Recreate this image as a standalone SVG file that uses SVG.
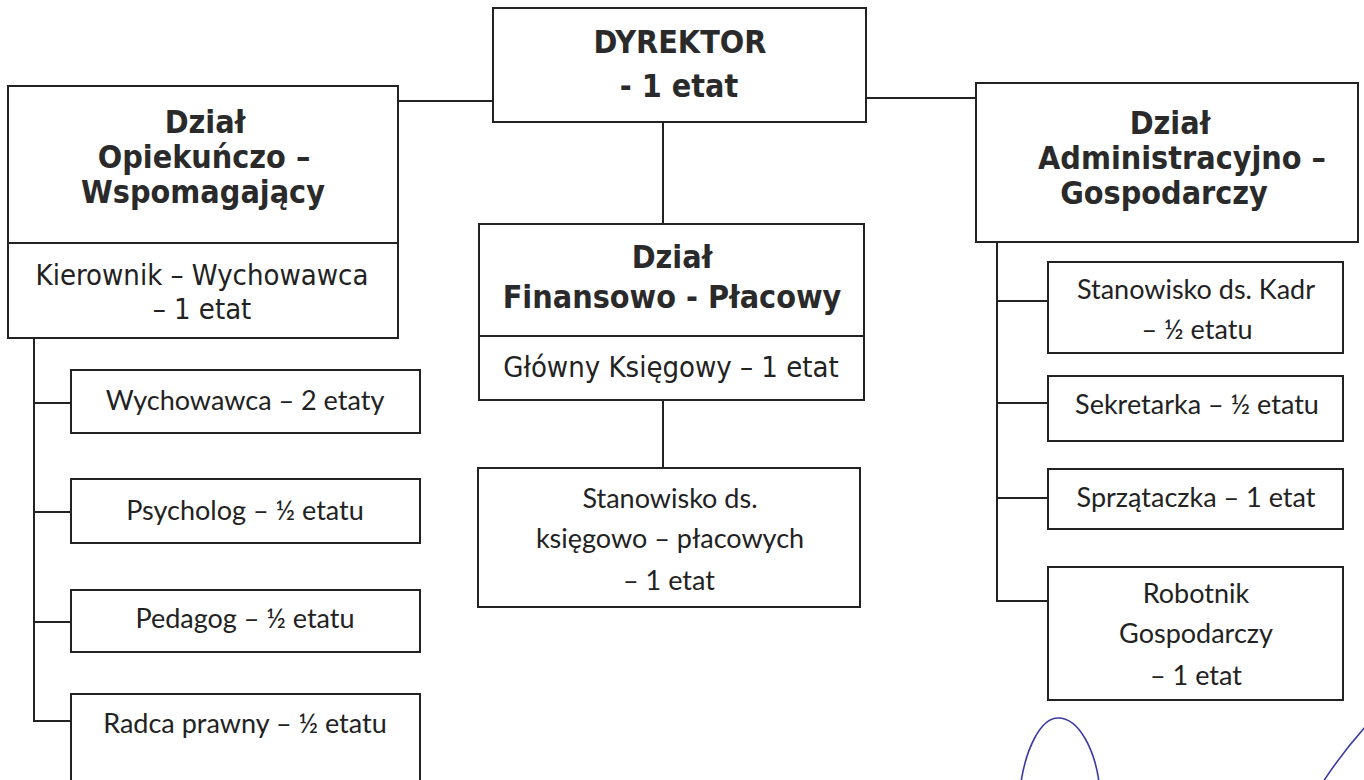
<svg xmlns="http://www.w3.org/2000/svg" width="1364" height="780" viewBox="0 0 1364 780">
<style>
.box{fill:#fff;stroke:#222;stroke-width:2}
.ln{fill:none;stroke:#222;stroke-width:2}
.h{font-family:"DejaVu Sans Condensed","DejaVu Sans",sans-serif;font-weight:bold;font-size:32px;fill:#2a2a2a;text-anchor:middle}
.t{font-family:"DejaVu Sans Condensed","DejaVu Sans",sans-serif;font-size:29px;fill:#222;text-anchor:middle}
.c{font-family:Lato,"Liberation Sans",sans-serif;font-size:27px;fill:#222;text-anchor:middle}
.pen{fill:none;stroke:#3b3ba8;stroke-width:1.6}
</style>
<rect width="1364" height="780" fill="#fff"/>
<g id="connectors">
<path class="ln" d="M398 101H493"/>
<path class="ln" d="M866 98H976"/>
<path class="ln" d="M663 122V224"/>
<path class="ln" d="M663 400V468"/>
<path class="ln" d="M34 338V721H71M34 403H71M34 512H71M34 622H71"/>
<path class="ln" d="M997 242V601H1048M997 301H1048M997 403H1048M997 498H1048"/>
</g>
<g id="dyrektor">
<rect class="box" x="493" y="8" width="373" height="114"/>
<text class="h" x="680" y="53">DYREKTOR</text>
<text class="h" x="679" y="97">- 1 etat</text>
</g>
<g id="dzial-opiekunczo">
<rect class="box" x="8" y="86" width="390" height="252"/>
<path class="ln" d="M8 243H398"/>
<text class="h" x="205" y="133">Dział</text>
<text class="h" x="204" y="168">Opiekuńczo –</text>
<text class="h" x="203" y="203">Wspomagający</text>
<text class="t" x="202" y="285">Kierownik – Wychowawca</text>
<text class="t" x="202" y="319">– 1 etat</text>
</g>
<g id="dzial-finansowo">
<rect class="box" x="479" y="224" width="385" height="176"/>
<path class="ln" d="M479 336H864"/>
<text class="h" x="672" y="268">Dział</text>
<text class="h" x="672" y="308">Finansowo - Płacowy</text>
<text class="t" x="671" y="377">Główny Księgowy – 1 etat</text>
</g>
<g id="dzial-administracyjno">
<rect class="box" x="976" y="83" width="382" height="159"/>
<text class="h" x="1170" y="134">Dział</text>
<text class="h" x="1182" y="169">Administracyjno –</text>
<text class="h" x="1164" y="204">Gospodarczy</text>
</g>
<g id="stanowisko-ksiegowe">
<rect class="box" x="478" y="468" width="382" height="139"/>
<text class="c" x="670" y="508">Stanowisko ds.</text>
<text class="c" x="670" y="548">księgowo – płacowych</text>
<text class="c" x="669" y="590">– 1 etat</text>
</g>
<g id="wychowawca">
<rect class="box" x="71" y="370" width="349" height="63"/>
<text class="c" x="245" y="410">Wychowawca – 2 etaty</text>
</g>
<g id="psycholog">
<rect class="box" x="71" y="479" width="349" height="64"/>
<text class="c" x="245" y="520">Psycholog – ½ etatu</text>
</g>
<g id="pedagog">
<rect class="box" x="71" y="590" width="349" height="62"/>
<text class="c" x="245" y="628">Pedagog – ½ etatu</text>
</g>
<g id="radca">
<rect class="box" x="71" y="694" width="349" height="100"/>
<text class="c" x="245" y="733">Radca prawny – ½ etatu</text>
</g>
<g id="kadry">
<rect class="box" x="1048" y="262" width="295" height="91"/>
<text class="c" x="1196" y="299">Stanowisko ds. Kadr</text>
<text class="c" x="1197" y="339">– ½ etatu</text>
</g>
<g id="sekretarka">
<rect class="box" x="1048" y="376" width="295" height="65"/>
<text class="c" x="1197" y="414">Sekretarka – ½ etatu</text>
</g>
<g id="sprzataczka">
<rect class="box" x="1048" y="469" width="295" height="60"/>
<text class="c" x="1196" y="507">Sprzątaczka – 1 etat</text>
</g>
<g id="robotnik">
<rect class="box" x="1048" y="567" width="295" height="133"/>
<text class="c" x="1196" y="603">Robotnik</text>
<text class="c" x="1196" y="643">Gospodarczy</text>
<text class="c" x="1196" y="685">– 1 etat</text>
</g>
<path class="pen" d="M1021 782C1026 750 1040 718 1058 718C1080 718 1095 752 1099 782"/>
<path class="pen" d="M1323 782C1336 762 1350 744 1366 726"/>
</svg>
